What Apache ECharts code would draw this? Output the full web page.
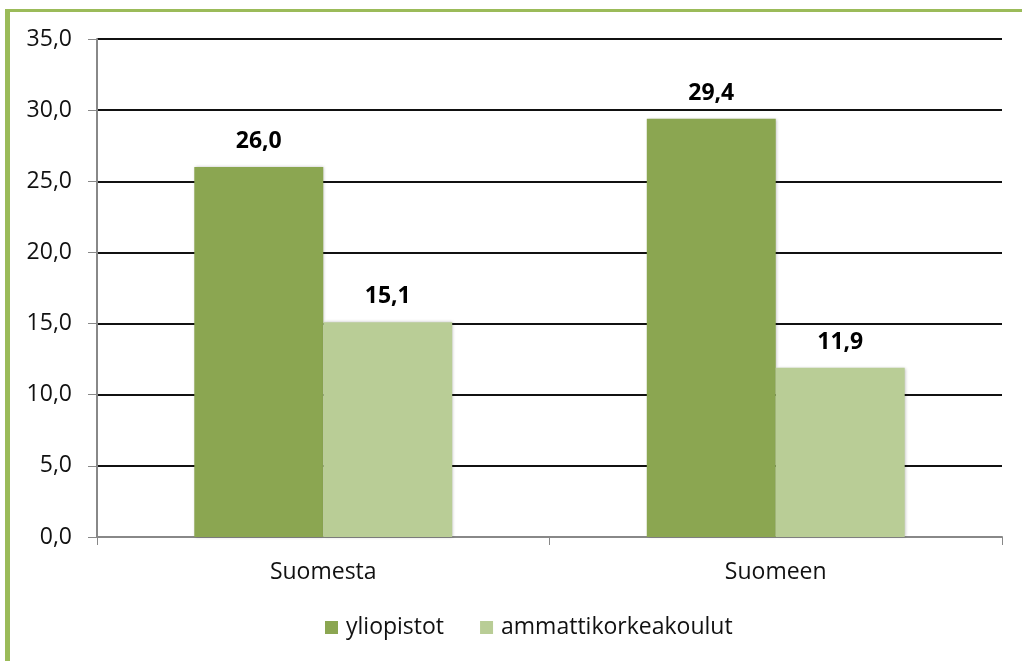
<!DOCTYPE html>
<html>
<head>
<meta charset="utf-8">
<script src="https://cdn.jsdelivr.net/npm/echarts@6/dist/echarts.min.js"></script>
<style>
  html, body { margin: 0; padding: 0; background: #fff; }
  #chart { width: 1022px; height: 661px; }
</style>
</head>
<body>
<div id="chart"></div>
<script>
const categories = ['Suomesta', 'Suomeen']
const yliopistot = [26.0, 29.4]
const amk = [15.1, 11.9]
const seriesNames = ['yliopistot', 'ammattikorkeakoulut']

const fmt = v => v.toFixed(1).replace('.', ',')
const font = 'Open Sans'

let mychart = echarts.init(document.getElementById('chart'))
mychart.setOption({
  animation: false,
  textStyle: { fontFamily: font },
  graphic: [
    // green frame, top and left only
    { type: 'rect', shape: { x: 5, y: 9, width: 1017, height: 3 }, style: { fill: '#9BBB59' } },
    { type: 'rect', shape: { x: 5, y: 9, width: 5, height: 652 }, style: { fill: '#9BBB59' } },
  ],
  grid: { left: 97, right: 20, top: 39, bottom: 124 },
  legend: {
    left: 320,
    bottom: 17,
    itemWidth: 13,
    itemHeight: 13,
    itemGap: 36,
    icon: 'rect',
    textStyle: { fontSize: 23, color: '#111', fontFamily: font, padding: [0, 0, 0, 3] },
    data: seriesNames,
  },
  xAxis: {
    type: 'category',
    data: categories,
    axisLine: { lineStyle: { color: '#888', width: 2 } },
    axisTick: { show: true, length: 8, lineStyle: { color: '#888' } },
    axisLabel: { fontSize: 23, color: '#111', margin: 24, fontFamily: font },
  },
  yAxis: {
    type: 'value',
    min: 0,
    max: 35,
    interval: 5,
    axisLine: { show: true, lineStyle: { color: '#888', width: 2 } },
    axisTick: { show: true, length: 9, lineStyle: { color: '#888' } },
    axisLabel: { fontSize: 23, color: '#111', margin: 25, formatter: fmt, fontFamily: font },
    splitLine: { lineStyle: { color: '#111', width: 2 } },
  },
  series: [
    {
      name: seriesNames[0],
      type: 'bar',
      data: yliopistot,
      barGap: '0%',
      barCategoryGap: '43%',
      itemStyle: { color: '#8BA651', shadowColor: 'rgba(0,0,0,0.25)', shadowBlur: 3, shadowOffsetX: 1 },
      label: { show: true, position: 'top', distance: 14, fontWeight: 'bold', fontSize: 23, color: '#000', fontFamily: font, formatter: p => fmt(p.value) },
    },
    {
      name: seriesNames[1],
      type: 'bar',
      data: amk,
      barGap: '0%',
      barCategoryGap: '43%',
      itemStyle: { color: '#B9CD96', shadowColor: 'rgba(0,0,0,0.25)', shadowBlur: 3, shadowOffsetX: 1 },
      label: { show: true, position: 'top', distance: 14, fontWeight: 'bold', fontSize: 23, color: '#000', fontFamily: font, formatter: p => fmt(p.value) },
    },
  ],
})
</script>
</body>
</html>
